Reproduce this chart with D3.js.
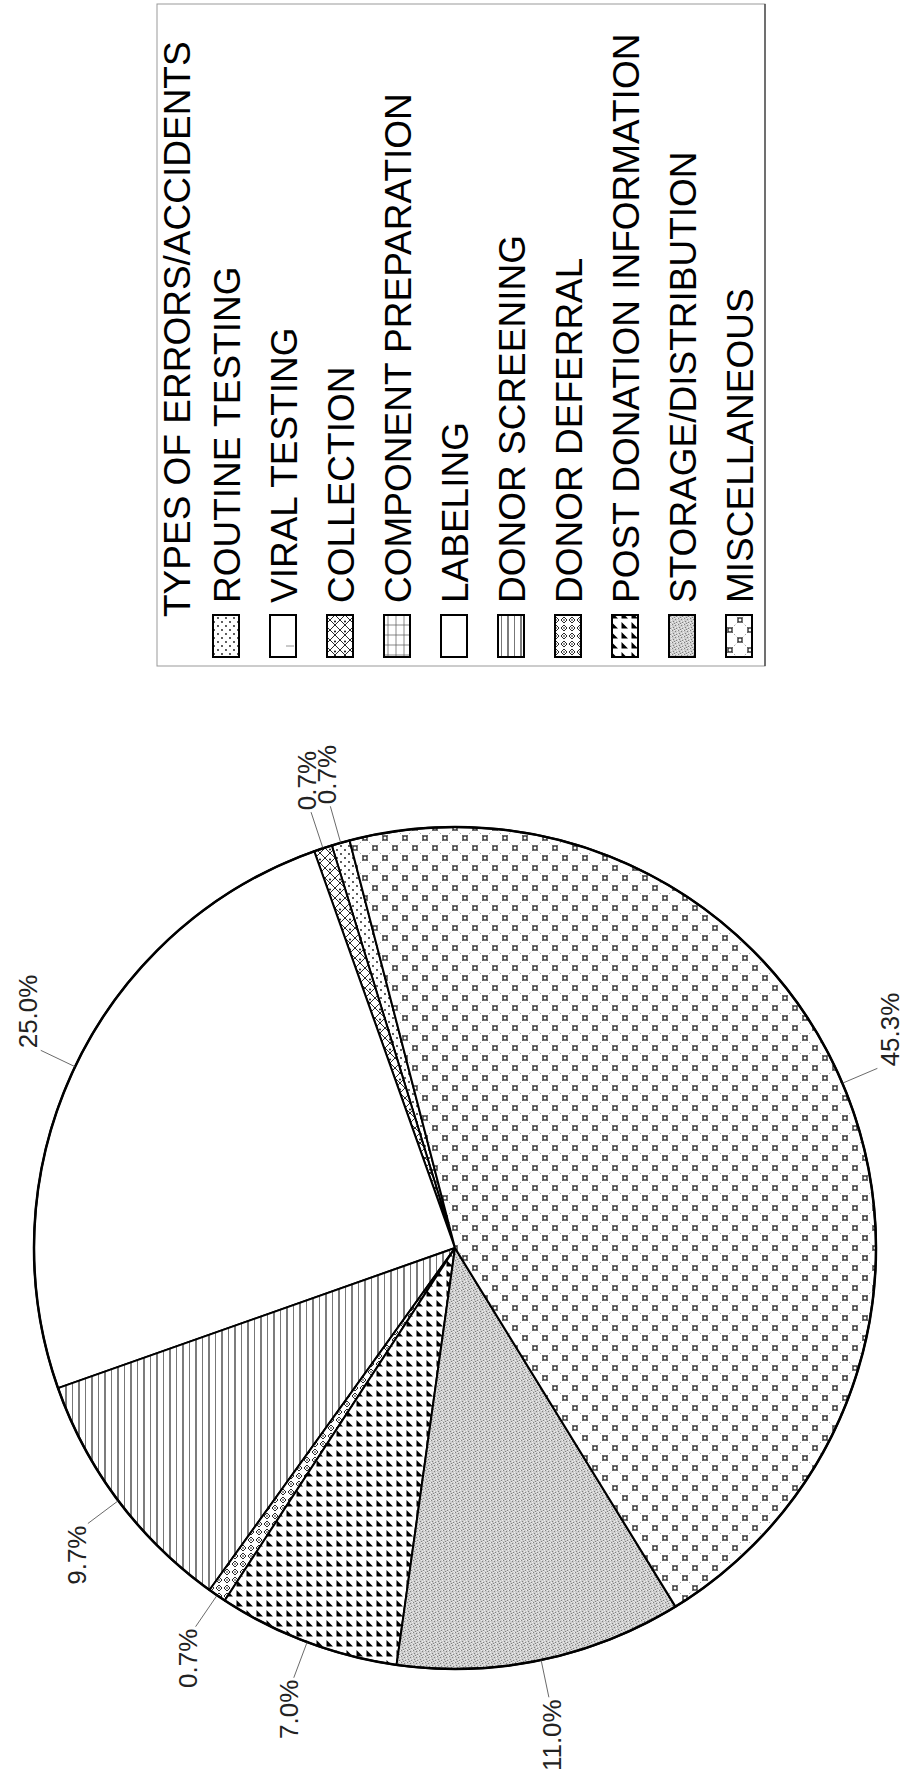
<!DOCTYPE html>
<html>
<head>
<meta charset="utf-8">
<script src="https://cdn.jsdelivr.net/npm/d3@7"></script>
<style>
  html, body { margin: 0; padding: 0; background: #fff; }
  svg { display: block; }
</style>
</head>
<body>
<div id="chart"></div>
<script>
// chart data
var legendTitle = "TYPES OF ERRORS/ACCIDENTS";
var categories = [
    "ROUTINE TESTING",
    "VIRAL TESTING",
    "COLLECTION",
    "COMPONENT PREPARATION",
    "LABELING",
    "DONOR SCREENING",
    "DONOR DEFERRAL",
    "POST DONATION INFORMATION",
    "STORAGE/DISTRIBUTION",
    "MISCELLANEOUS"
];
var percents = [0.7, 0, 0.7, 0, 25.0, 9.7, 0.7, 7.0, 11.0, 45.3];

// fill pattern per category (same order)
var fills = ["dots", "viral", "collect", "grid", "blank", "vlines", "defer", "tri", "stipple", "squares"];

var svgWidth = 915;
var svgHeight = 1782;

var svg = d3.select("#chart")
    .append("svg")
    .attr("width", svgWidth)
    .attr("height", svgHeight);

svg.append("rect")
    .attr("width", svgWidth)
    .attr("height", svgHeight)
    .attr("fill", "#fff");

// ---------- patterns ----------
var defs = svg.append("defs");

function pat(id, w, h) {
    var p = defs.append("pattern")
        .attr("id", id)
        .attr("patternUnits", "userSpaceOnUse")
        .attr("width", w)
        .attr("height", h);
    p.append("rect").attr("width", w).attr("height", h).attr("fill", "#fff");
    return p;
}

var p;
p = pat("dots", 8, 8);
p.append("circle").attr("cx", 2).attr("cy", 2).attr("r", 0.9).attr("fill", "#111");
p.append("circle").attr("cx", 6).attr("cy", 6).attr("r", 0.9).attr("fill", "#111");

p = pat("viral", 40, 40);
p.append("path").attr("d", "M6,6 H14").attr("stroke", "#777").attr("stroke-width", 0.8);

p = pat("collect", 10, 10);
p.append("path").attr("d", "M0,0 L10,10 M10,0 L0,10")
    .attr("stroke", "#111").attr("stroke-width", 0.9);
p.append("circle").attr("cx", 5).attr("cy", 1.5).attr("r", 1).attr("fill", "#111");

p = pat("grid", 8, 10);
p.append("path").attr("d", "M4,0 V10 M0,5 H8")
    .attr("stroke", "#555").attr("stroke-width", 0.7);

pat("blank", 10, 10);

p = pat("vlines", 13, 4);
p.append("path").attr("d", "M1,0 V4").attr("stroke", "#111").attr("stroke-width", 1.1);
p.append("path").attr("d", "M7.5,0 V4").attr("stroke", "#777").attr("stroke-width", 1);

p = pat("defer", 8, 8);
p.append("path").attr("d", "M4,1 L7,4 L4,7 L1,4 Z")
    .attr("fill", "none").attr("stroke", "#111").attr("stroke-width", 0.9);
p.append("circle").attr("cx", 4).attr("cy", 4).attr("r", 0.8).attr("fill", "#111");

p = pat("tri", 10, 10);
p.append("path").attr("d", "M1.5,2 L1.5,8.5 L8,8.5 Z").attr("fill", "#000");

p = pat("stipple", 6, 6);
p.select("rect").attr("fill", "#cdcdcd");
[[0, 0], [3, 1], [1, 3], [4, 4], [2, 5]].forEach(function(c) {
    p.append("rect").attr("x", c[0]).attr("y", c[1]).attr("width", 1).attr("height", 1).attr("fill", "#808080");
});
[[2, 0], [5, 0], [0, 4], [3, 3], [4, 5], [5, 2]].forEach(function(c) {
    p.append("rect").attr("x", c[0]).attr("y", c[1]).attr("width", 1).attr("height", 1).attr("fill", "#ededed");
});

p = pat("squares", 20, 20);
p.append("path").attr("d", "M0,0 L20,20 M20,0 L0,20")
    .attr("stroke", "#333").attr("stroke-width", 0.8).attr("stroke-dasharray", "1,2.4");
[[10, 10], [0, 0], [20, 0], [0, 20], [20, 20]].forEach(function(c) {
    p.append("rect").attr("x", c[0] - 2).attr("y", c[1] - 2).attr("width", 4).attr("height", 4)
        .attr("fill", "#fff").attr("stroke", "#111").attr("stroke-width", 1.2);
});

// ---------- pie ----------
var cx = 455, cy = 1248, radius = 421;
var startDeg = -14.5;   // first slice starts here, slices run counterclockwise
var a0 = startDeg * Math.PI / 180;

var pie = d3.pie()
    .sort(null)
    .value(function(d) { return d; })
    .startAngle(a0)
    .endAngle(a0 - 2 * Math.PI);

var arcs = pie(percents);

var arc = d3.arc().innerRadius(0).outerRadius(radius);
var edgeArc = d3.arc().innerRadius(radius).outerRadius(radius);
var outerArc = d3.arc().innerRadius(radius + 38).outerRadius(radius + 38);

var pieGroup = svg.append("g")
    .attr("transform", `translate(${cx}, ${cy})`);

pieGroup.selectAll("path.slice")
    .data(arcs.filter(function(d) { return d.value > 0; }))
    .enter()
    .append("path")
    .attr("class", "slice")
    .attr("d", arc)
    .attr("fill", function(d) { return "url(#" + fills[d.index] + ")"; })
    .attr("stroke", "#000")
    .attr("stroke-width", 2)
    .attr("stroke-linejoin", "round");

pieGroup.append("circle")
    .attr("r", radius)
    .attr("fill", "none")
    .attr("stroke", "#000")
    .attr("stroke-width", 2.5);

// labels with leader lines (text is turned 90 degrees like the whole figure)
var labelled = arcs.filter(function(d) { return d.value > 0; });

pieGroup.selectAll("line.leader")
    .data(labelled)
    .enter()
    .append("line")
    .attr("class", "leader")
    .attr("x1", function(d) { return edgeArc.centroid(d)[0]; })
    .attr("y1", function(d) { return edgeArc.centroid(d)[1]; })
    .attr("x2", function(d) { return outerArc.centroid(d)[0]; })
    .attr("y2", function(d) { return outerArc.centroid(d)[1]; })
    .attr("stroke", "#444")
    .attr("stroke-width", 0.8);

pieGroup.selectAll("text.pct")
    .data(labelled)
    .enter()
    .append("text")
    .attr("class", "pct")
    .attr("transform", function(d) {
        var mid = (d.startAngle + d.endAngle) / 2;
        var c = outerArc.centroid(d);
        var X = Math.cos(mid);       // direction in the upright figure
        var Y = Math.sin(mid);
        var x = c[0] + Y * 14;
        var y = c[1] - (X < 0 ? -2 : 2);
        return `translate(${x}, ${y}) rotate(-90)`;
    })
    .attr("text-anchor", function(d) {
        var mid = (d.startAngle + d.endAngle) / 2;
        return Math.cos(mid) < 0 ? "end" : "start";
    })
    .attr("dominant-baseline", "central")
    .attr("font-family", "'Liberation Sans', Arial, sans-serif")
    .attr("font-size", "26px")
    .attr("fill", "#222")
    .text(function(d) { return d3.format(".1f")(d.value) + "%"; });

// ---------- legend ----------
var legend = svg.append("g");

legend.append("rect")
    .attr("x", 157)
    .attr("y", 4)
    .attr("width", 608)
    .attr("height", 662)
    .attr("fill", "none")
    .attr("stroke", "#999")
    .attr("stroke-width", 1);
legend.append("line")
    .attr("x1", 765).attr("y1", 4).attr("x2", 765).attr("y2", 666)
    .attr("stroke", "#333").attr("stroke-width", 1.2);

// row positions across the page (the legend runs sideways)
var rowX = d3.scaleLinear().domain([0, categories.length - 1]).range([240, 753]);

legend.append("text")
    .attr("transform", "translate(190, 617) rotate(-90)")
    .attr("font-family", "'Liberation Sans', Arial, sans-serif")
    .attr("font-size", "37px")
    .attr("fill", "#000")
    .text(legendTitle);

var rows = legend.selectAll("g.row")
    .data(categories)
    .enter()
    .append("g")
    .attr("class", "row");

rows.append("rect")
    .attr("x", function(d, i) { return rowX(i) - 27; })
    .attr("y", 615)
    .attr("width", 26)
    .attr("height", 42)
    .attr("fill", function(d, i) { return "url(#" + fills[i] + ")"; })
    .attr("stroke", "#000")
    .attr("stroke-width", 2);

rows.append("text")
    .attr("transform", function(d, i) { return `translate(${rowX(i)}, 603) rotate(-90)`; })
    .attr("font-family", "'Liberation Sans', Arial, sans-serif")
    .attr("font-size", "37px")
    .attr("fill", "#000")
    .text(function(d) { return d; });
</script>
</body>
</html>
